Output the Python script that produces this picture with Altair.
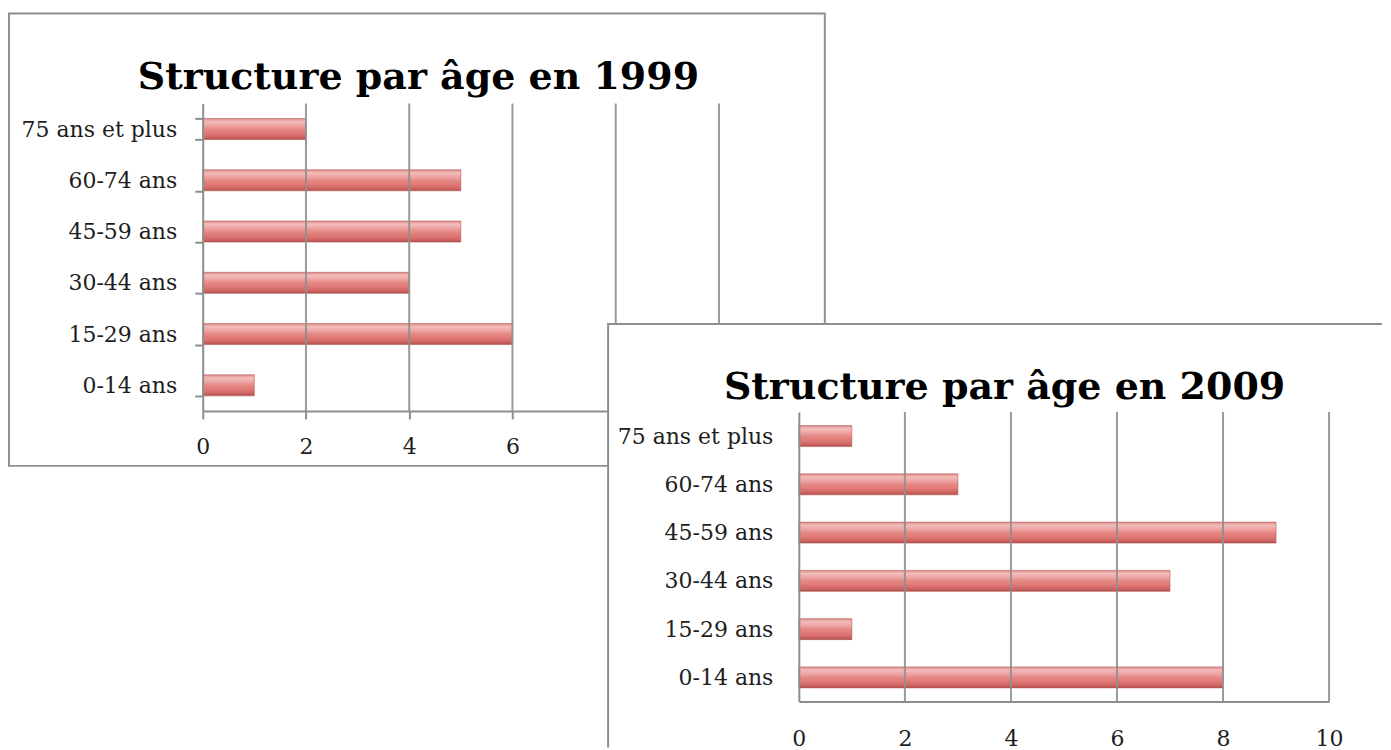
import altair as alt
import pandas as pd

# ---- data ----
ages = ["0-14 ans", "15-29 ans", "30-44 ans", "45-59 ans", "60-74 ans", "75 ans et plus"]
age_order = ["75 ans et plus", "60-74 ans", "45-59 ans", "30-44 ans", "15-29 ans", "0-14 ans"]
values_1999 = [1, 6, 4, 5, 5, 2]
values_2009 = [8, 1, 7, 9, 3, 1]
x_ticks = [0, 2, 4, 6, 8, 10]
grid_values = [2, 4, 6, 8, 10]
title_1999 = "Structure par âge en 1999"
title_2009 = "Structure par âge en 2009"

GRAY = "#8e8e8e"
FONT = "DejaVu Serif"
LABEL = "#1e1e1e"

df1999 = pd.DataFrame({"age": ages, "n": values_1999})
df2009 = pd.DataFrame({"age": ages, "n": values_2009})
grid_df = pd.DataFrame({"v": grid_values})
one = pd.DataFrame({"k": [0]})

bar_fill = alt.Gradient(
    gradient="linear", x1=0, x2=0, y1=0, y2=1,
    stops=[
        alt.GradientStop(color="#df8a87", offset=0.0),
        alt.GradientStop(color="#f3bdbb", offset=0.15),
        alt.GradientStop(color="#eeaaa7", offset=0.3),
        alt.GradientStop(color="#e68986", offset=0.5),
        alt.GradientStop(color="#dc7471", offset=0.75),
        alt.GradientStop(color="#c95f5c", offset=0.92),
        alt.GradientStop(color="#a64845", offset=1.0),
    ],
)


def panel(df, title, W, H, ticks_on, pad_inner, title_x, title_y, frame_layers, label_expr):
    xscale = alt.Scale(domain=[0, 10], nice=False)
    xaxis = alt.Axis(
        values=x_ticks, grid=False, title=None, zindex=1, format="d",
        labelExpr=label_expr,
        domain=True, domainColor=GRAY, domainWidth=2,
        ticks=ticks_on, tickSize=8 if ticks_on else 0, tickColor=GRAY, tickWidth=2,
        labelFont=FONT, labelFontSize=22, labelColor=LABEL,
        labelPadding=18 if ticks_on else 27, labelFlush=False,
    )
    yaxis = alt.Axis(
        title=None, zindex=1, grid=False,
        domain=True, domainColor=GRAY, domainWidth=2,
        ticks=ticks_on, tickBand="extent", tickSize=8 if ticks_on else 0,
        tickColor=GRAY, tickWidth=2,
        labelFont=FONT, labelFontSize=22, labelColor=LABEL,
        labelPadding=18 if ticks_on else 26, labelLimit=300,
    )
    bars = alt.Chart(df).mark_bar(color=bar_fill, stroke="#b5605d", strokeWidth=0.6).encode(
        x=alt.X("n:Q", scale=xscale, axis=xaxis),
        y=alt.Y("age:N", sort=age_order, axis=yaxis,
                scale=alt.Scale(paddingInner=pad_inner, paddingOuter=pad_inner / 2)),
    )
    grid = alt.Chart(grid_df).mark_rule(color=GRAY, strokeWidth=2, opacity=0.9).encode(
        x=alt.X("v:Q", scale=xscale, axis=xaxis),
        y=alt.value(0), y2=alt.value(H),
    )
    ttl = alt.Chart(one).mark_text(
        text=title, font=FONT, fontWeight="bold", fontSize=38,
        align="center", baseline="alphabetic", color="black",
    ).encode(x=alt.value(title_x), y=alt.value(title_y))
    return alt.layer(*frame_layers, bars, grid, ttl).properties(width=W, height=H)


# frame of the 1999 chart
box1 = alt.Chart(one).mark_rect(fill="white", stroke=GRAY, strokeWidth=2).encode(
    x=alt.value(-194), x2=alt.value(623), y=alt.value(-90), y2=alt.value(363)
)
# labels 8 and 10 of the 1999 chart lie under the 2009 chart
chart1 = panel(df1999, title_1999, 517, 308, True, 0.59, 216, -14, [box1],
               "datum.value > 7 ? '' : datum.label")

# frame of the 2009 chart (covers the first one)
cover2 = alt.Chart(one).mark_rect(fill="white").encode(
    x=alt.value(-191), x2=alt.value(584), y=alt.value(-88), y2=alt.value(336)
)
top2 = alt.Chart(one).mark_rule(color=GRAY, strokeWidth=2).encode(
    x=alt.value(-192), x2=alt.value(584), y=alt.value(-88)
)
left2 = alt.Chart(one).mark_rule(color=GRAY, strokeWidth=2).encode(
    x=alt.value(-191), y=alt.value(-89), y2=alt.value(336)
)
chart2 = panel(df2009, title_2009, 531, 290, False, 0.565, 206, -13, [cover2, top2, left2],
               "datum.label")

spacer = alt.Chart(one).mark_rect(opacity=0).encode(
    x=alt.value(0), x2=alt.value(1), y=alt.value(0), y2=alt.value(1)
).properties(width=404, height=10)

chart = alt.concat(
    chart1,
    alt.hconcat(spacer, chart2, spacing=0),
    columns=1,
    align="none",
    spacing=-145,
).properties(
    padding={"left": 0, "top": 4, "right": 0, "bottom": 0},
    background="white",
).configure_view(strokeWidth=0)

chart.save("out.html", embed_options={"renderer": "svg", "actions": False})
